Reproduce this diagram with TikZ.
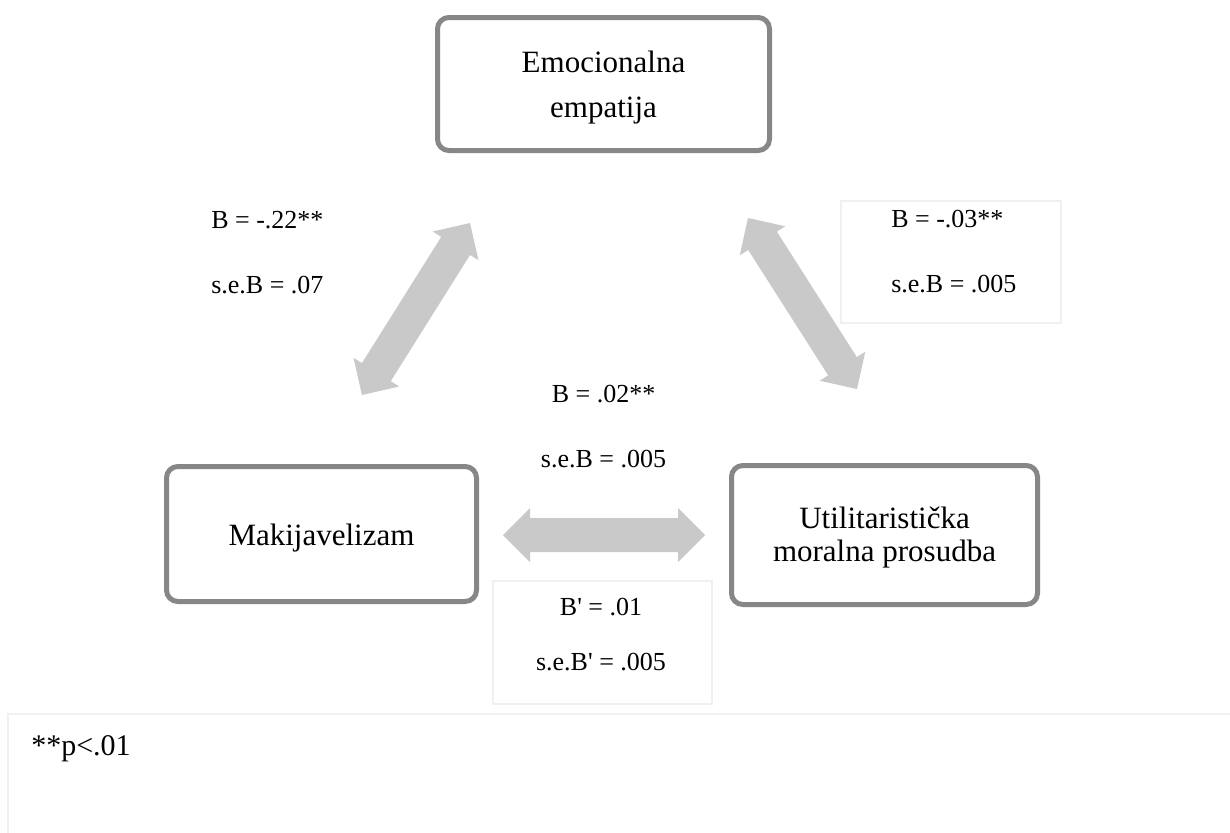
\documentclass[tikz,border=0pt]{standalone}
\usepackage{fontspec}
\setmainfont{Liberation Serif}[Ligatures=TeXOff]
\usetikzlibrary{calc}
\definecolor{boxgray}{HTML}{878787}
\definecolor{arrgray}{HTML}{C9C9C9}
\definecolor{faintgray}{HTML}{F0F0F0}
\def\arrHL{20.25pt}
\def\arrHW{20.25pt}
\def\arrSW{12.75pt}
\newcommand{\dblarr}[2]{%
  \fill[arrgray]
   (#1)
   -- ($(#1)!\arrHL!(#2)!\arrHW!90:(#2)$)
   -- ($(#1)!\arrHL!(#2)!\arrSW!90:(#2)$)
   -- ($(#2)!\arrHL!(#1)!\arrSW!-90:(#1)$)
   -- ($(#2)!\arrHL!(#1)!\arrHW!-90:(#1)$)
   -- (#2)
   -- ($(#2)!\arrHL!(#1)!\arrHW!90:(#1)$)
   -- ($(#2)!\arrHL!(#1)!\arrSW!90:(#1)$)
   -- ($(#1)!\arrHL!(#2)!\arrSW!-90:(#2)$)
   -- ($(#1)!\arrHL!(#2)!\arrHW!-90:(#2)$)
   -- cycle;}
\begin{document}
\begin{tikzpicture}[x=0.75pt,y=-0.75pt,
  varbox/.style={draw=boxgray, line width=3.75pt, rounded corners=8.5pt, fill=white, inner sep=0pt},
  boxtxt/.style={anchor=base, inner sep=0pt, font=\fontsize{23.25}{28}\selectfont},
  labtxt/.style={inner sep=0pt, font=\fontsize{19.5}{24}\selectfont},
  notetxt/.style={anchor=base west, inner sep=0pt, font=\fontsize{22.5}{27}\selectfont},
  faintbox/.style={draw=faintgray, line width=1.1pt, inner sep=0pt}]
\useasboundingbox (0,0) rectangle (1230,832);
\fill[white] (0,0) rectangle (1230,832);

% faint label frames
\node[faintbox, minimum width=165pt, minimum height=91.5pt] (lbR) at (951,262) {};
\node[faintbox, minimum width=164.25pt, minimum height=92.25pt] (lbB) at (602.5,642.5) {};
\node[faintbox, minimum width=924pt, minimum height=102pt] (note) at (624,782) {};

% arrows
\coordinate (l1) at (362,395);
\coordinate (l2) at (470,223);
\coordinate (r1) at (748,218);
\coordinate (r2) at (857,389);
\coordinate (h1) at (503,535);
\coordinate (h2) at (705,535);
\dblarr{l1}{l2}
\dblarr{r1}{r2}
\dblarr{h1}{h2}

% variable boxes
\node[varbox, minimum width=249pt, minimum height=99.75pt] (emp) at (603.5,84) {};
\node[varbox, minimum width=232.5pt, minimum height=101.25pt] (mak) at (321.5,534) {};
\node[varbox, minimum width=229.5pt, minimum height=104.25pt] (uti) at (884.5,535) {};

\node[boxtxt] (empA) at (603.5,72) {Emocionalna};
\node[boxtxt] (empB) at (603.5,117) {empatija};
\node[boxtxt] (makA) at (321.5,545) {Makijavelizam};
\node[boxtxt] (utiA) at (884.5,528) {Utilitaristička};
\node[boxtxt] (utiB) at (884.5,561) {moralna prosudba};

% coefficient labels
\node[labtxt, anchor=base west] (lA) at (211,228) {B = -.22**};
\node[labtxt, anchor=base west] (lB) at (211,293) {s.e.B = .07};
\node[labtxt, anchor=base west] (rA) at (891,227) {B = -.03**};
\node[labtxt, anchor=base west] (rB) at (891,292) {s.e.B = .005};
\node[labtxt, anchor=base] (mA) at (603.5,402) {B = .02**};
\node[labtxt, anchor=base] (mB) at (603.5,467) {s.e.B = .005};
\node[labtxt, anchor=base] (bA) at (601,615) {B' = .01};
\node[labtxt, anchor=base] (bB) at (601,670) {s.e.B' = .005};

\node[notetxt] (noteT) at (31,755) {**p<.01};
\end{tikzpicture}
\end{document}
